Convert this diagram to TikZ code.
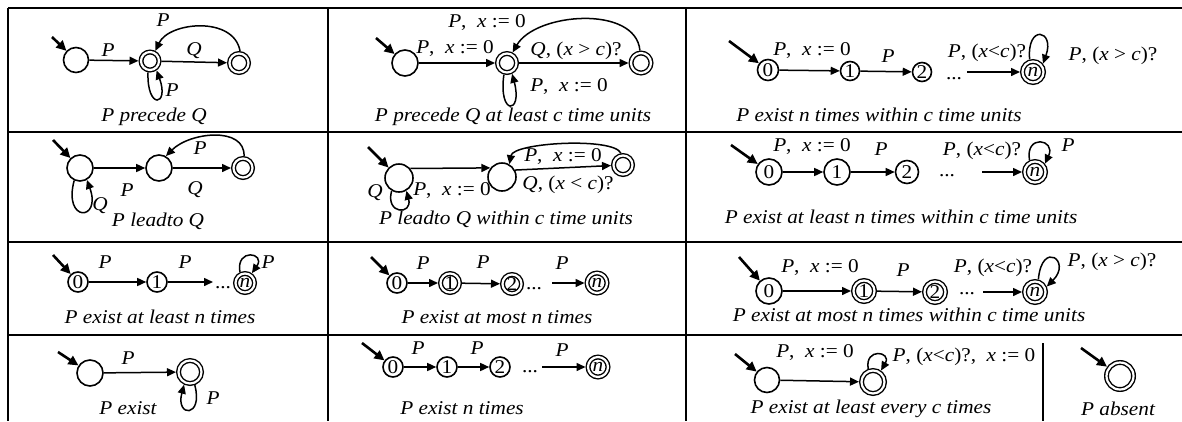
\documentclass[tikz,border=0pt]{standalone}
\usepackage{fontspec}
\setmainfont{Liberation Serif}[FakeStretch=1.09]
\usetikzlibrary{arrows.meta}
\newcommand\mi[1]{\textit{#1}}
\begin{document}
\begin{tikzpicture}[x=1pt,y=-1pt,
  font=\fontsize{19.5}{22}\selectfont,
  st/.style={circle,draw,line width=1.6pt,minimum size=#1,inner sep=0pt},
  st/.default=20pt,
  acc/.style={circle,draw,line width=1.4pt,double,double distance=2.2pt,minimum size=#1,inner sep=0pt,outer sep=2.5pt},
  acc/.default=19pt,
  ar/.style={-{Triangle[length=9pt,width=8pt]},line width=1.5pt},
  ini/.style={-{Triangle[length=10pt,width=9.5pt]},line width=2.6pt},
  tb/.style={line width=2.6pt},
  lab/.style={inner sep=0pt},
  captxt/.style={inner sep=0pt,font=\fontsize{19.5}{22}\selectfont\itshape},
]
\useasboundingbox (0,0) rectangle (1182,421);
% grid
\draw[tb] (8,8) -- (1182,8);
\draw[tb] (8,132) -- (1182,132);
\draw[tb] (8,242) -- (1182,242);
\draw[tb] (8,335) -- (1182,335);
\draw[tb] (8,8) -- (8,421);
\draw[tb] (328,8) -- (328,421);
\draw[tb] (686,8) -- (686,421);
\draw[line width=1.2pt] (1043,343) -- (1043,421);

% (1,1) P precede Q
\node[st=25pt] (a0) at (76,60) {};
\node[acc=18pt] (a1) at (150,61) {};
\node[acc=19pt] (a2) at (239,63) {};
\coordinate (ia) at (52,37);
\draw[ini] (ia) -- (a0);
\draw[ar] (a0) -- (a1);
\draw[ar] (a1) -- (a2);
\draw[ar] (a2.85) .. controls +(100:36pt) and +(65:32pt) .. (a1.62);
\draw[ar] (a1.260) .. controls +(268:38pt) and +(290:38pt) .. (a1.305);
\node[lab] (la1) at (108,50) {\mi{P}};
\node[lab] (la2) at (194,51) {\mi{Q}};
\node[lab] (la3) at (163,20) {\mi{P}};
\node[lab] (la4) at (172,90) {\mi{P}};
\node[captxt] (ca) at (154,117) {P precede Q};

% (1,2) P precede Q at least c time units
\node[st=26pt] (b0) at (405,63) {};
\node[acc=19pt] (b1) at (507,63) {};
\node[acc=20pt] (b2) at (641,63) {};
\coordinate (ib) at (376,38);
\draw[ini] (ib) -- (b0);
\draw[ar] (b0) -- (b1);
\draw[ar] (b1) -- (b2);
\draw[ar] (b2.95) .. controls +(95:46pt) and +(60:46pt) .. (b1.62);
\draw[ar] (b1.255) .. controls +(262:42pt) and +(285:42pt) .. (b1.295);
\node[lab] (lb1) at (455,49) {\mi{P},\ \ \mi{x} := 0};
\node[lab] (lb2) at (487,23) {\mi{P},\ \ \mi{x} := 0};
\node[lab] (lb3) at (576,51) {\mi{Q}, (\mi{x} > \mi{c})?};
\node[lab] (lb4) at (569,87) {\mi{P},\ \ \mi{x} := 0};
\node[captxt] (cb) at (513,117) {P precede Q at least c time units};

% (1,3) P exist n times within c time units
\node[st=21pt] (c0) at (768,70) {0};
\node[st=19pt] (c1) at (850,71) {1};
\node[st=19pt] (c2) at (922,72) {2};
\node[acc=21pt] (cn) at (1033,72) {\mi{n}};
\coordinate (ic) at (729,41);
\coordinate (c3) at (967,72);
\draw[ini] (ic) -- (c0);
\draw[ar] (c0) -- (c1);
\draw[ar] (c1) -- (c2);
\draw[ar] (c3) -- (cn);
\draw[ar] (cn.105) .. controls +(95:36pt) and +(70:36pt) .. (cn.40);
\node[lab] (lc1) at (812,51) {\mi{P},\ \ \mi{x} := 0};
\node[lab] (lc2) at (888,56) {\mi{P}};
\node[lab] (lc3) at (954,79) {...};
\node[lab] (lc4) at (987,53) {\mi{P}, (\mi{x}<\mi{c})?};
\node[lab] (lc5) at (1113,56) {\mi{P}, (\mi{x} > \mi{c})?};
\node[captxt] (cc) at (879,115) {P exist n times within c time units};

% (2,1) P leadto Q
\node[st=26pt] (d0) at (80,168) {};
\node[st=26pt] (d1) at (159,168) {};
\node[acc=19pt] (d2) at (243,168) {};
\coordinate (id) at (53,140);
\draw[ini] (id) -- (d0);
\draw[ar] (d0) -- (d1);
\draw[ar] (d1) -- (d2);
\draw[ar] (d2.85) .. controls +(88:30pt) and +(45:34pt) .. (d1.60);
\draw[ar] (d0.245) .. controls +(255:44pt) and +(290:44pt) .. (d0.300);
\node[lab] (ld1) at (127,190) {\mi{P}};
\node[lab] (ld2) at (195,190) {\mi{Q}};
\node[lab] (ld3) at (200,148) {\mi{P}};
\node[lab] (ld4) at (100,206) {\mi{Q}};
\node[captxt] (cd) at (158,221) {P leadto Q};

% (2,2) P leadto Q within c time units
\node[st=28pt] (e0) at (399,178) {};
\node[st=28pt] (e1) at (502,177) {};
\node[acc=19pt] (e2) at (623,165) {};
\coordinate (ie) at (368,147);
\draw[ini] (ie) -- (e0);
\draw[ar] (e0.40) -- (e1.142);
\draw[ar] (e1.28) -- (e2);
\draw[ar] (e2.100) .. controls +(115:18pt) and +(80:22pt) .. (e1.60);
\draw[ar] (e0.240) .. controls +(255:25pt) and +(285:25pt) .. (e0.300);
\node[lab] (le1) at (452,191) {\mi{P},\ \ \mi{x} := 0};
\node[lab] (le2) at (375,193) {\mi{Q}};
\node[lab] (le3) at (563,157) {\mi{P},\ \ \mi{x} := 0};
\node[lab] (le4) at (568,185) {\mi{Q}, (\mi{x} < \mi{c})?};
\node[captxt] (ce) at (506,219) {P leadto Q within c time units};

% (2,3) P exist at least n times within c time units
\node[st=26pt] (f0) at (769,172) {0};
\node[st=26pt] (f1) at (837,172) {1};
\node[st=23pt] (f2) at (907,172) {2};
\node[acc=21pt] (fn) at (1035,172) {\mi{n}};
\coordinate (if) at (731,145);
\coordinate (f3) at (982,172);
\draw[ini] (if) -- (f0);
\draw[ar] (f0) -- (f1);
\draw[ar] (f1) -- (f2);
\draw[ar] (f3) -- (fn);
\draw[ar] (fn.115) .. controls +(100:27pt) and +(65:27pt) .. (fn.40);
\node[lab] (lf1) at (812,147) {\mi{P},\ \ \mi{x} := 0};
\node[lab] (lf2) at (881,149) {\mi{P}};
\node[lab] (lf3) at (947,176) {...};
\node[lab] (lf4) at (982,151) {\mi{P}, (\mi{x}<\mi{c})?};
\node[lab] (lf5) at (1068,145) {\mi{P}};
\node[captxt] (cf) at (901,217) {P exist at least n times within c time units};

% (3,1) P exist at least n times
\node[st=20pt] (g0) at (78,282) {0};
\node[st=20pt] (g1) at (157,282) {1};
\node[acc=19pt] (gn) at (245,283) {\mi{n}};
\coordinate (ig) at (53,255);
\coordinate (g3) at (213,282);
\draw[ini] (ig) -- (g0);
\draw[ar] (g0) -- (g1);
\draw[ar] (g1) -- (g3);
\draw[ar] (gn.115) .. controls +(100:25pt) and +(55:25pt) .. (gn.55);
\node[lab] (lg1) at (105,262) {\mi{P}};
\node[lab] (lg2) at (185,262) {\mi{P}};
\node[lab] (lg3) at (223,288) {...};
\node[lab] (lg4) at (268,262) {\mi{P}};
\node[captxt] (cg) at (160,317) {P exist at least n times};

% (3,2) P exist at most n times
\node[st=20pt] (h0) at (397,283) {0};
\node[acc=19pt] (h1) at (450,283) {1};
\node[acc=19pt] (h2) at (512,284) {2};
\node[acc=20pt] (hn) at (597,283) {\mi{n}};
\coordinate (ih) at (371,257);
\coordinate (h3) at (552,283);
\draw[ini] (ih) -- (h0);
\draw[ar] (h0) -- (h1);
\draw[ar] (h1) -- (h2);
\draw[ar] (h3) -- (hn);
\node[lab] (lh1) at (423,263) {\mi{P}};
\node[lab] (lh2) at (483,262) {\mi{P}};
\node[lab] (lh3) at (534,289) {...};
\node[lab] (lh4) at (562,263) {\mi{P}};
\node[captxt] (ch) at (497,317) {P exist at most n times};

% (3,3) P exist at most n times within c time units
\node[st=26pt] (k0) at (769,291) {0};
\node[acc=21pt] (k1) at (864,291) {1};
\node[acc=21pt] (k2) at (935,292) {2};
\node[acc=21pt] (kn) at (1035,292) {\mi{n}};
\coordinate (ik) at (739,257);
\coordinate (k3) at (983,292);
\draw[ini] (ik) -- (k0);
\draw[ar] (k0) -- (k1);
\draw[ar] (k1) -- (k2);
\draw[ar] (k3) -- (kn);
\draw[ar] (kn.75) .. controls +(85:40pt) and +(45:36pt) .. (kn.25);
\node[lab] (lk1) at (820,268) {\mi{P},\ \ \mi{x} := 0};
\node[lab] (lk2) at (903,270) {\mi{P}};
\node[lab] (lk3) at (967,294) {...};
\node[lab] (lk4) at (993,268) {\mi{P}, (\mi{x}<\mi{c})?};
\node[lab] (lk5) at (1112,262) {\mi{P}, (\mi{x} > \mi{c})?};
\node[captxt] (ck) at (909,315) {P exist at most n times within c time units};

% (4,1) P exist
\node[st=26pt] (m0) at (90,373) {};
\node[acc=23pt] (m1) at (190,372) {};
\coordinate (im) at (58,352);
\draw[ini] (im) -- (m0);
\draw[ar] (m0) -- (m1);
\draw[ar] (m1.290) .. controls +(285:34pt) and +(255:34pt) .. (m1.245);
\node[lab] (lm1) at (128,358) {\mi{P}};
\node[lab] (lm2) at (213,398) {\mi{P}};
\node[captxt] (cm) at (128,408) {P exist};

% (4,2) P exist n times
\node[st=20pt] (p0) at (393,367) {0};
\node[st=20pt] (p1) at (447,367) {1};
\node[st=20pt] (p2) at (500,367) {2};
\node[acc=20pt] (pn) at (598,367) {\mi{n}};
\coordinate (ip) at (362,343);
\coordinate (p3) at (542,367);
\draw[ini] (ip) -- (p0);
\draw[ar] (p0) -- (p1);
\draw[ar] (p1) -- (p2);
\draw[ar] (p3) -- (pn);
\node[lab] (lp1) at (418,348) {\mi{P}};
\node[lab] (lp2) at (477,348) {\mi{P}};
\node[lab] (lp3) at (530,372) {...};
\node[lab] (lp4) at (562,350) {\mi{P}};
\node[captxt] (cp) at (462,408) {P exist n times};

% (4,3) P exist at least every c times
\node[st=25pt] (q0) at (767,380) {};
\node[acc=23pt] (q1) at (873,382) {};
\coordinate (iq) at (735,354);
\draw[ini] (iq) -- (q0);
\draw[ar] (q0) -- (q1);
\draw[ar] (q1.110) .. controls +(100:22pt) and +(60:22pt) .. (q1.55);
\node[lab] (lq1) at (815,353) {\mi{P},\ \ \mi{x} := 0};
\node[lab] (lq2) at (964,357) {\mi{P}, (\mi{x}<\mi{c})?,\ \ \mi{x} := 0};
\node[captxt] (cq) at (871,409) {P exist at least every c times};

% (4,4) P absent
\node[acc=27pt] (r0) at (1120,376) {};
\coordinate (ir) at (1081,348);
\draw[ini] (ir) -- (r0);
\node[captxt] (cr) at (1118,409) {P absent};
\end{tikzpicture}
\end{document}
